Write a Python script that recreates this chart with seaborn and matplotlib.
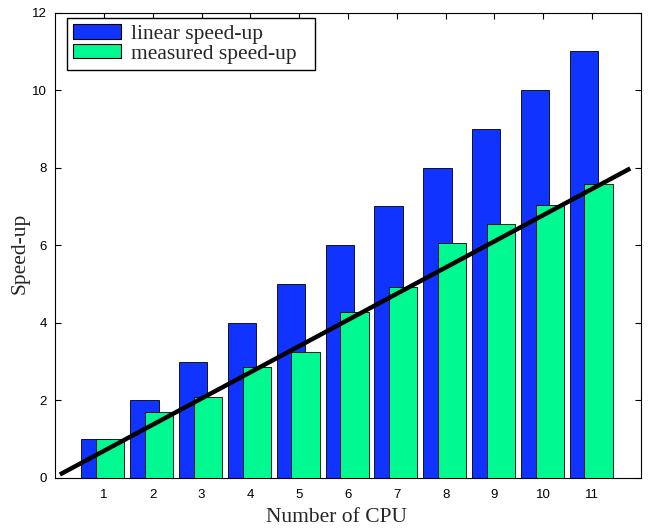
import numpy as np
import matplotlib
matplotlib.use("Agg")
import matplotlib.pyplot as plt
from matplotlib.patches import Patch
import seaborn as sns

# Number of CPUs and the corresponding speed-ups
cpus = np.array([1, 2, 3, 4, 5, 6, 7, 8, 9, 10, 11])
linear_speedup = np.array([1, 2, 3, 4, 5, 6, 7, 8, 9, 10, 11])
measured_speedup = np.array([1.0, 1.71, 2.1, 2.86, 3.25, 4.27, 4.92, 6.07, 6.55, 7.05, 7.58])

# Fitted trend line (end points)
trend_x = [0.1, 11.78]
trend_y = [0.09, 7.98]

x_ticks = list(range(1, 12))
y_ticks = list(range(0, 13, 2))

sns.set_style("ticks")
plt.rcParams["font.family"] = ["Liberation Sans", "DejaVu Sans"]

blue = "#1133FF"
green = "#00F990"

fig = plt.figure(figsize=(6.48, 5.29), dpi=100)
ax = fig.add_axes([55 / 648, 1 - 478 / 529, (641 - 55) / 648, (478 - 12.5) / 529])

bar_w = 0.58
sns.barplot(x=cpus - 0.17, y=linear_speedup, native_scale=True, width=bar_w,
            color=blue, saturation=1, edgecolor="black", linewidth=0.6,
            errorbar=None, ax=ax, zorder=2)
sns.barplot(x=cpus + 0.13, y=measured_speedup, native_scale=True, width=bar_w,
            color=green, saturation=1, edgecolor="black", linewidth=0.6,
            errorbar=None, ax=ax, zorder=3)
sns.lineplot(x=trend_x, y=trend_y, color="black", linewidth=3.2, ax=ax,
             zorder=4, solid_capstyle="butt")

ax.set_xlim(0, 12)
ax.set_ylim(0, 12)
ax.set_xticks(x_ticks)
ax.set_xticklabels([str(t) for t in x_ticks])
ax.set_yticks(y_ticks)
ax.set_yticklabels([str(t) for t in y_ticks])

for side in ["top", "right", "bottom", "left"]:
    ax.spines[side].set_visible(True)
    ax.spines[side].set_linewidth(0.8)
    ax.spines[side].set_color("black")

ax.tick_params(direction="in", length=4, width=0.8, top=True, right=True,
               labelsize=9.5, colors="black")
ax.tick_params(axis="x", pad=8)
ax.tick_params(axis="y", pad=6)

serif = ["Liberation Serif", "DejaVu Serif"]
ax.set_xlabel("Number of CPU", fontsize=15.5, family=serif)
ax.set_ylabel("Speed-up", fontsize=15.5, family=serif)
ax.xaxis.set_label_coords((336.5 - 55) / 586, -0.065)
ax.yaxis.set_label_coords(-0.043, 0.483)

handles = [Patch(facecolor=blue, edgecolor="black", linewidth=0.8),
           Patch(facecolor=green, edgecolor="black", linewidth=0.8)]
leg = ax.legend(handles, ["linear speed-up", "measured speed-up"],
                loc="upper left",
                bbox_to_anchor=((67 - 55) / 586, (478 - 17.7) / 465.5,
                                (315 - 67) / 586, 0.0),
                mode="expand",
                prop={"family": serif, "size": 15.5},
                frameon=True, fancybox=False, framealpha=1, edgecolor="black",
                handlelength=2.2, handleheight=0.65, handletextpad=0.45,
                labelspacing=0.0, borderpad=0.3, borderaxespad=0.0)
leg.get_frame().set_linewidth(1.0)
leg.set_zorder(5)

fig.savefig("out.png", dpi=100)
